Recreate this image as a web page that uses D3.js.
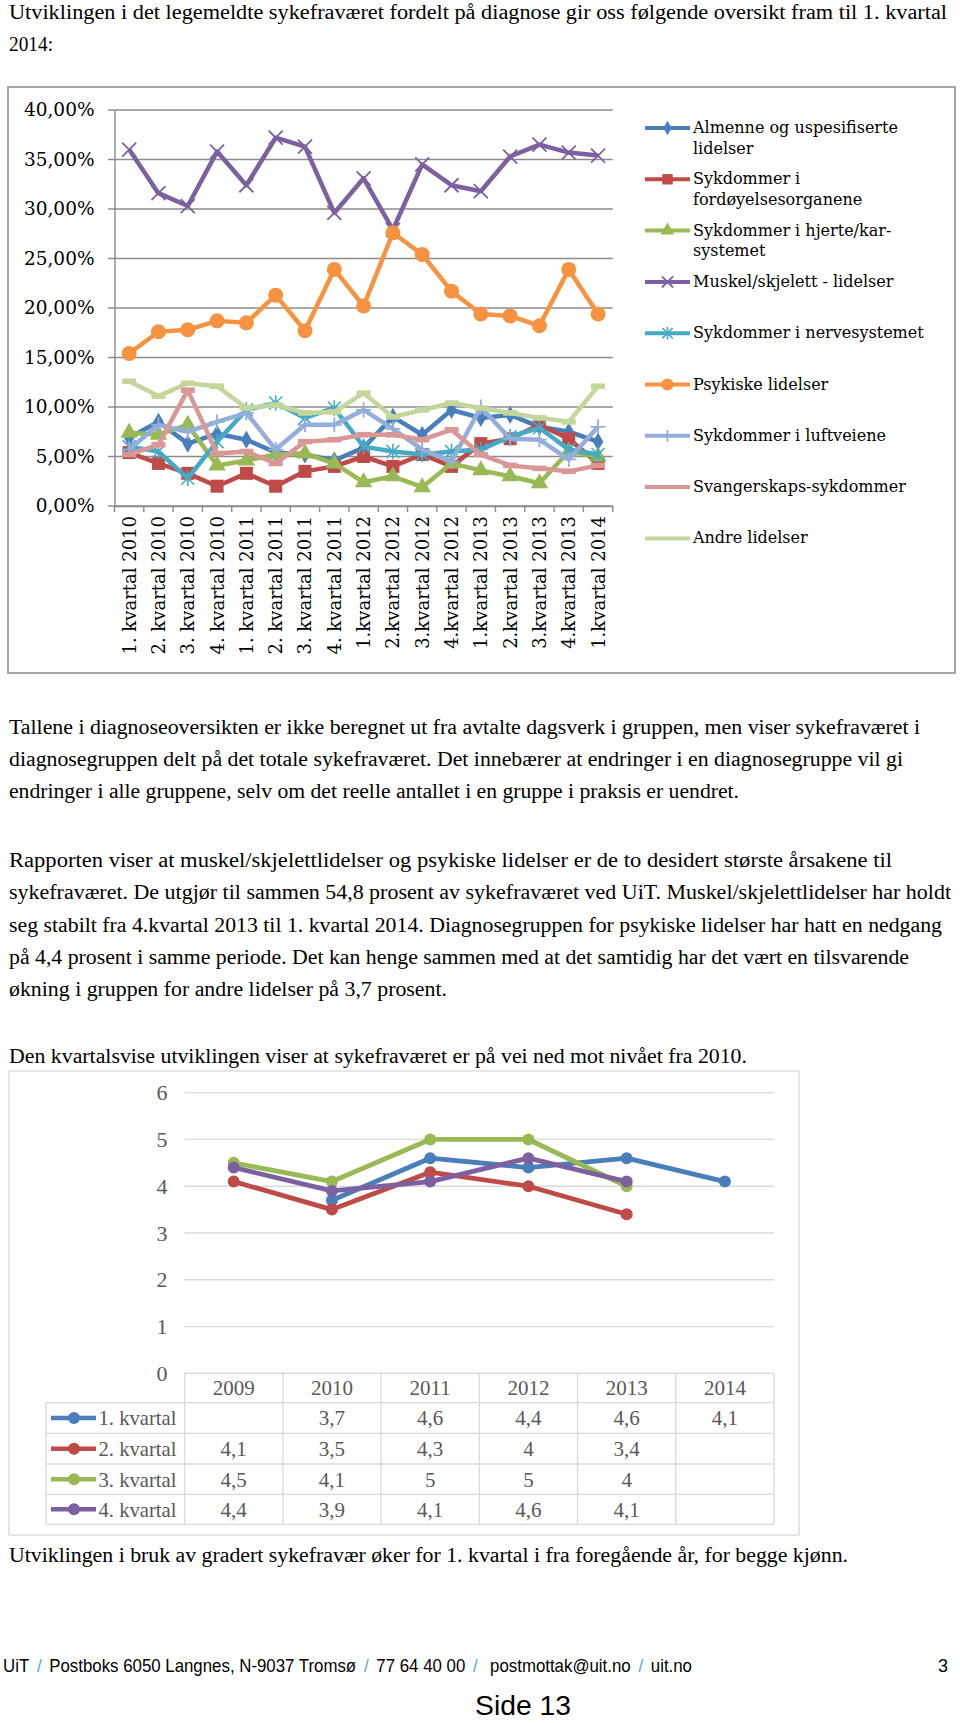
<!DOCTYPE html>
<html><head><meta charset="utf-8">
<script src="https://cdn.jsdelivr.net/npm/d3@7"></script>
<style>body{margin:0;background:#fff;} svg{display:block;}</style>
</head><body>
<svg id="page" width="960" height="1723"></svg>
<script>
// ---------- DATA: chart 1 (share of sick leave by diagnosis, %) ----------
const categories = ["1. kvartal 2010","2. kvartal 2010","3. kvartal 2010","4. kvartal 2010",
  "1. kvartal 2011","2. kvartal 2011","3. kvartal 2011","4. kvartal 2011",
  "1.kvartal 2012","2.kvartal 2012","3.kvartal 2012","4.kvartal 2012",
  "1.kvartal 2013","2.kvartal 2013","3.kvartal 2013","4.kvartal 2013","1.kvartal 2014"];
const almenne      = [6.9, 8.5, 6.3, 7.3, 6.7, 5.4, 5.2, 4.6, 5.9, 9.0, 7.2, 9.7, 8.9, 9.2, 8.0, 7.5, 6.5];
const fordoyelse   = [5.4, 4.3, 3.3, 2.0, 3.3, 2.0, 3.5, 4.0, 5.0, 4.0, 5.2, 4.0, 6.3, 6.8, 8.2, 6.8, 4.3];
const hjerteKar    = [7.4, 7.2, 8.2, 4.1, 4.6, 5.2, 5.3, 4.3, 2.4, 3.0, 1.9, 4.3, 3.6, 3.0, 2.3, 5.5, 5.0];
const muskel       = [36.0, 31.6, 30.3, 35.8, 32.4, 37.2, 36.3, 29.6, 33.1, 27.9, 34.5, 32.4, 31.8, 35.3, 36.5, 35.7, 35.4];
const nerve        = [6.0, 5.5, 2.8, 6.5, 9.7, 10.4, 8.9, 9.9, 6.0, 5.5, 5.2, 5.5, 5.7, 7.0, 7.9, 5.7, 5.2];
const psykiske     = [15.4, 17.6, 17.8, 18.7, 18.5, 21.3, 17.7, 23.9, 20.2, 27.6, 25.4, 21.7, 19.4, 19.2, 18.2, 23.9, 19.4];
const luftveiene   = [5.7, 8.2, 7.5, 8.5, 9.4, 5.7, 8.2, 8.2, 9.7, 7.8, 5.7, 4.5, 10.0, 6.8, 6.7, 4.7, 8.0];
const svangerskap  = [5.2, 6.2, 11.7, 5.3, 5.5, 4.3, 6.5, 6.7, 7.2, 7.2, 6.7, 7.7, 5.2, 4.1, 3.8, 3.5, 4.1];
const andre        = [12.6, 11.1, 12.4, 12.1, 9.9, 10.2, 9.4, 9.5, 11.4, 9.0, 9.7, 10.4, 9.9, 9.4, 8.9, 8.5, 12.1];
const seriesNames1 = ["Almenne og uspesifiserte lidelser","Sykdommer i fordøyelsesorganene","Sykdommer i hjerte/kar-systemet",
  "Muskel/skjelett - lidelser","Sykdommer i nervesystemet","Psykiske lidelser","Sykdommer i luftveiene",
  "Svangerskaps-sykdommer","Andre lidelser"];
const legendLines1 = [["Almenne og uspesifiserte","lidelser"],["Sykdommer i","fordøyelsesorganene"],
  ["Sykdommer i hjerte/kar-","systemet"],["Muskel/skjelett - lidelser"],["Sykdommer i nervesystemet"],
  ["Psykiske lidelser"],["Sykdommer i luftveiene"],["Svangerskaps-sykdommer"],["Andre lidelser"]];
const yTicks1 = [0,5,10,15,20,25,30,35,40];

// ---------- DATA: chart 2 (quarterly sick leave, %) ----------
const years2 = ["2009","2010","2011","2012","2013","2014"];
const kvartal1 = [null, 3.7, 4.6, 4.4, 4.6, 4.1];
const kvartal2 = [4.1, 3.5, 4.3, 4, 3.4, null];
const kvartal3 = [4.5, 4.1, 5, 5, 4, null];
const kvartal4 = [4.4, 3.9, 4.1, 4.6, 4.1, null];
const seriesNames2 = ["1. kvartal","2. kvartal","3. kvartal","4. kvartal"];
const yTicks2 = [0,1,2,3,4,5,6];

// ---------- page ----------
const svg = d3.select("#page");
svg.append("rect").attr("width",960).attr("height",1723).attr("fill","#fff");

const SERIF = "'Liberation Serif','Times New Roman',serif";
const SANS = "'Liberation Sans',Arial,sans-serif";
function textLine(t, x, y, len, size, family, fill) {
  const el = svg.append("text").attr("x",x).attr("y",y)
    .attr("font-family",family||SERIF).attr("font-size",size||20).attr("fill",fill||"#000").text(t);
  if (len) el.attr("textLength",len).attr("lengthAdjust","spacingAndGlyphs");
  return el;
}

// text blocks: [text, baseline, right end]
const bodyLines = [
  ["Utviklingen i det legemeldte sykefraværet fordelt på diagnose gir oss følgende oversikt fram til 1. kvartal", 19, 947],
  ["2014:", 51, 53],
  ["Tallene i diagnoseoversikten er ikke beregnet ut fra avtalte dagsverk i gruppen, men viser sykefraværet i", 734, 920],
  ["diagnosegruppen delt på det totale sykefraværet. Det innebærer at endringer i en diagnosegruppe vil gi", 766, 903],
  ["endringer i alle gruppene, selv om det reelle antallet i en gruppe i praksis er uendret.", 798, 739],
  ["Rapporten viser at muskel/skjelettlidelser og psykiske lidelser er de to desidert største årsakene til", 867, 892],
  ["sykefraværet. De utgjør til sammen 54,8 prosent av sykefraværet ved UiT. Muskel/skjelettlidelser har holdt", 899, 951],
  ["seg stabilt fra 4.kvartal 2013 til 1. kvartal 2014. Diagnosegruppen for psykiske lidelser har hatt en nedgang", 932, 942],
  ["på 4,4 prosent i samme periode. Det kan henge sammen med at det samtidig har det vært en tilsvarende", 964, 909],
  ["økning i gruppen for andre lidelser på 3,7 prosent.", 996, 447],
  ["Den kvartalsvise utviklingen viser at sykefraværet er på vei ned mot nivået fra 2010.", 1063, 747],
  ["Utviklingen i bruk av gradert sykefravær øker for 1. kvartal i fra foregående år, for begge kjønn.", 1562, 848]
];
bodyLines.forEach(([t,y,e]) => textLine(t, 9, y, e-9, 20));

// footer: pieces laid out left to right with one uniform horizontal scale transform
const footParts = [["UiT","#000"],["/","#4BACC6"],["Postboks 6050 Langnes, N-9037 Tromsø","#000"],["/","#4BACC6"],
  ["77 64 40 00","#000"],["/","#4BACC6"],["postmottak@uit.no","#000"],["/","#4BACC6"],["uit.no","#000"]];
(function(){
  const fs = 18, x0 = 3, total = 689, pad = 3, by = 1672;
  const probe = svg.append("text").attr("font-family",SANS).attr("font-size",fs).text("a a");
  const probe2 = svg.append("text").attr("font-family",SANS).attr("font-size",fs).text("aa");
  const spaceW = (probe.node().getComputedTextLength() - probe2.node().getComputedTextLength()) || 5;
  probe.remove(); probe2.remove();
  const els = footParts.map(([t,c]) => textLine(t, 0, 0, null, fs, SANS, c));
  const widths = els.map(e => e.node().getComputedTextLength());
  const gaps = footParts.length - 1;
  const k = (total - pad*gaps) / (d3.sum(widths) + spaceW*(gaps+1));
  let x = x0;
  els.forEach((e,i) => {
    e.attr("transform", `translate(${x},${by}) scale(${k},1)`);
    x += widths[i]*k + spaceW*k + pad + (i===5 ? spaceW*k : 0);
  });
})();
svg.append("text").attr("x",948).attr("y",1672).attr("text-anchor","end").attr("font-family",SANS).attr("font-size",18).text("3");
textLine("Side 13", 475, 1715, 96, 28, SANS, "#000");

// ================= CHART 1 =================
const c1 = svg.append("g");
c1.append("rect").attr("x",8).attr("y",87).attr("width",947).attr("height",586)
  .attr("fill","#fff").attr("stroke","#a6a6a6").attr("stroke-width",2);

const x1 = d3.scaleBand().domain(categories).range([114.5, 612.7]);
const y1 = d3.scaleLinear().domain([0,40]).range([506,110]);
const GRID = "#8c8c8c";

c1.append("g").selectAll("line").data(yTicks1).join("line")
  .attr("x1",108).attr("x2",612.7).attr("y1",d=>y1(d)).attr("y2",d=>y1(d))
  .attr("stroke",GRID).attr("stroke-width",1.4);
const yAx1 = c1.append("g").attr("transform","translate(114.5,0)")
  .call(d3.axisLeft(y1).tickValues(yTicks1).tickSize(0).tickPadding(20)
    .tickFormat(d => d.toFixed(2).replace(".",",") + "%"));
yAx1.select(".domain").attr("stroke",GRID).attr("stroke-width",1.4);
yAx1.selectAll("text").attr("font-family","'DejaVu Serif',serif").attr("font-size",18.5).attr("fill","#000");
const xAx1 = c1.append("g").attr("transform","translate(0,506)")
  .call(d3.axisBottom(x1).tickSize(0).tickPadding(0));
xAx1.select(".domain").attr("stroke",GRID).attr("stroke-width",1.4);
xAx1.selectAll("text").attr("font-family","'DejaVu Serif',serif").attr("font-size",18).attr("fill","#000")
  .attr("text-anchor","end").attr("dy",null).attr("y",0).attr("dominant-baseline","central")
  .attr("transform","translate(0,10) rotate(-90)");
c1.append("g").selectAll("line").data(d3.range(categories.length+1)).join("line")
  .attr("x1",i=>x1.range()[0]+i*x1.step()).attr("x2",i=>x1.range()[0]+i*x1.step())
  .attr("y1",506).attr("y2",512).attr("stroke",GRID).attr("stroke-width",1.4);

const series1 = [
  {name:seriesNames1[0], values:almenne,     color:"#4A7EBB", marker:"diamond"},
  {name:seriesNames1[1], values:fordoyelse,  color:"#BE4B48", marker:"square"},
  {name:seriesNames1[2], values:hjerteKar,   color:"#98B954", marker:"triangle"},
  {name:seriesNames1[3], values:muskel,      color:"#7D60A0", marker:"x"},
  {name:seriesNames1[4], values:nerve,       color:"#46AAC5", marker:"star"},
  {name:seriesNames1[5], values:psykiske,    color:"#F69240", marker:"circle"},
  {name:seriesNames1[6], values:luftveiene,  color:"#93AEDB", marker:"plus"},
  {name:seriesNames1[7], values:svangerskap, color:"#D99795", marker:"dash"},
  {name:seriesNames1[8], values:andre,       color:"#C3D69B", marker:"dash"}
];

function drawMarker(g, type, cx, cy, color, scale) {
  const s = scale || 1;
  if (type==="diamond") g.append("path").attr("d",d3.symbol(d3.symbolDiamond, 95*s*s)()).attr("transform",`translate(${cx},${cy})`).attr("fill",color);
  else if (type==="square") g.append("rect").attr("x",cx-6.5*s).attr("y",cy-6.5*s).attr("width",13*s).attr("height",13*s).attr("fill",color);
  else if (type==="triangle") g.append("path").attr("d",d3.symbol(d3.symbolTriangle, 130*s*s)()).attr("transform",`translate(${cx},${cy})`).attr("fill",color);
  else if (type==="circle") g.append("circle").attr("cx",cx).attr("cy",cy).attr("r",7.5*s).attr("fill",color);
  else if (type==="x") {
    const r=7*s;
    g.append("path").attr("d",`M${cx-r},${cy-r}L${cx+r},${cy+r}M${cx-r},${cy+r}L${cx+r},${cy-r}`).attr("stroke",color).attr("stroke-width",1.8).attr("fill","none");
  } else if (type==="star") {
    const r=6.5*s;
    g.append("path").attr("d",`M${cx-r},${cy-r}L${cx+r},${cy+r}M${cx-r},${cy+r}L${cx+r},${cy-r}M${cx},${cy-r*1.2}L${cx},${cy+r*1.2}`).attr("stroke",color).attr("stroke-width",1.6).attr("fill","none");
  } else if (type==="plus") {
    const r=7.5*s;
    g.append("path").attr("d",`M${cx-r},${cy}L${cx+r},${cy}M${cx},${cy-r}L${cx},${cy+r}`).attr("stroke",color).attr("stroke-width",1.8).attr("fill","none");
  } else if (type==="dash") {
    g.append("rect").attr("x",cx-7*s).attr("y",cy-2.8*s).attr("width",14*s).attr("height",5.6*s).attr("fill",color);
  }
}

const line1 = d3.line().x((d,i)=>x1(categories[i])+x1.bandwidth()/2).y(d=>y1(d));
series1.forEach(s => {
  const g = c1.append("g");
  g.append("path").attr("d",line1(s.values)).attr("fill","none").attr("stroke",s.color)
    .attr("stroke-width",4.5).attr("stroke-linejoin","round");
  s.values.forEach((v,i) => drawMarker(g, s.marker, x1(categories[i])+x1.bandwidth()/2, y1(v), s.color));
});

// legend
const legBase = 133, legStep = 51.3;
series1.forEach((s,i) => {
  const by = legBase + i*legStep;
  const g = c1.append("g");
  g.append("line").attr("x1",645).attr("x2",690).attr("y1",by-5).attr("y2",by-5).attr("stroke",s.color).attr("stroke-width",4);
  if (s.marker!=="dash") drawMarker(g, s.marker, 667.5, by-5, s.color, 0.8);
  legendLines1[i].forEach((t,k) => g.append("text").attr("x",693).attr("y",by + k*20.5)
    .attr("font-family","'DejaVu Serif',serif").attr("font-size",16).attr("fill","#000").text(t));
});

// ================= CHART 2 =================
const c2 = svg.append("g");
c2.append("rect").attr("x",9).attr("y",1071).attr("width",790).attr("height",464)
  .attr("fill","#fff").attr("stroke","#d9d9d9").attr("stroke-width",1.3);
const x2 = d3.scaleBand().domain(years2).range([184.6, 774]);
const y2 = d3.scaleLinear().domain([0,6]).range([1373.3, 1092.7]);
const G2 = "#d9d9d9";
const T2 = "#595959";
const F2 = "'Liberation Serif',serif";

c2.append("g").selectAll("line").data(yTicks2).join("line")
  .attr("x1",184.6).attr("x2",774).attr("y1",d=>y2(d)).attr("y2",d=>y2(d)).attr("stroke",G2).attr("stroke-width",1.3);
const yAx2 = c2.append("g").attr("transform","translate(184.6,0)")
  .call(d3.axisLeft(y2).tickValues(yTicks2).tickSize(0).tickPadding(17).tickFormat(d3.format("d")));
yAx2.select(".domain").remove();
yAx2.selectAll("text").attr("font-family",F2).attr("font-size",22).attr("fill",T2);

const rowTop = [1373.3, 1402.7, 1433.3, 1464, 1494.3, 1524.3];
const tg = c2.append("g").attr("stroke",G2).attr("stroke-width",1.3);
tg.append("line").attr("x1",184.6).attr("x2",774).attr("y1",rowTop[0]).attr("y2",rowTop[0]);
[1,2,3,4,5].forEach(k => tg.append("line").attr("x1",46).attr("x2",774).attr("y1",rowTop[k]).attr("y2",rowTop[k]));
years2.forEach(yv => tg.append("line").attr("x1",x2(yv)).attr("x2",x2(yv)).attr("y1",rowTop[0]).attr("y2",rowTop[5]));
tg.append("line").attr("x1",774).attr("x2",774).attr("y1",rowTop[0]).attr("y2",rowTop[5]);
tg.append("line").attr("x1",46).attr("x2",46).attr("y1",rowTop[1]).attr("y2",rowTop[5]);

c2.append("g").selectAll("text").data(years2).join("text")
  .attr("x",d=>x2(d)+x2.bandwidth()/2).attr("y",(rowTop[0]+rowTop[1])/2).attr("dy","0.35em")
  .attr("text-anchor","middle").attr("font-family",F2).attr("font-size",21).attr("fill",T2).text(d=>d);

const series2 = [
  {name:seriesNames2[0], values:kvartal1, color:"#4A7EBB"},
  {name:seriesNames2[1], values:kvartal2, color:"#BE4B48"},
  {name:seriesNames2[2], values:kvartal3, color:"#98B954"},
  {name:seriesNames2[3], values:kvartal4, color:"#7D60A0"}
];
const line2 = d3.line().defined(d=>d!==null).x((d,i)=>x2(years2[i])+x2.bandwidth()/2).y(d=>y2(d));
series2.forEach((s,k) => {
  const g = c2.append("g");
  g.append("path").attr("d",line2(s.values)).attr("fill","none").attr("stroke",s.color).attr("stroke-width",4.8).attr("stroke-linejoin","round");
  s.values.forEach((v,i) => { if (v!==null) g.append("circle").attr("cx",x2(years2[i])+x2.bandwidth()/2).attr("cy",y2(v)).attr("r",6).attr("fill",s.color); });
  const cy = (rowTop[k+1]+rowTop[k+2])/2;
  g.append("line").attr("x1",51).attr("x2",96).attr("y1",cy).attr("y2",cy).attr("stroke",s.color).attr("stroke-width",4.5);
  g.append("circle").attr("cx",74).attr("cy",cy).attr("r",6).attr("fill",s.color);
  g.append("text").attr("x",98.5).attr("y",cy).attr("dy","0.35em").attr("font-family",F2).attr("font-size",21)
    .attr("fill",T2).attr("textLength",78).attr("lengthAdjust","spacingAndGlyphs").text(s.name);
  s.values.forEach((v,i) => { if (v!==null) g.append("text").attr("x",x2(years2[i])+x2.bandwidth()/2).attr("y",cy).attr("dy","0.35em")
    .attr("text-anchor","middle").attr("font-family",F2).attr("font-size",21).attr("fill",T2).text(String(v).replace(".",",")); });
});
</script>
</body></html>
